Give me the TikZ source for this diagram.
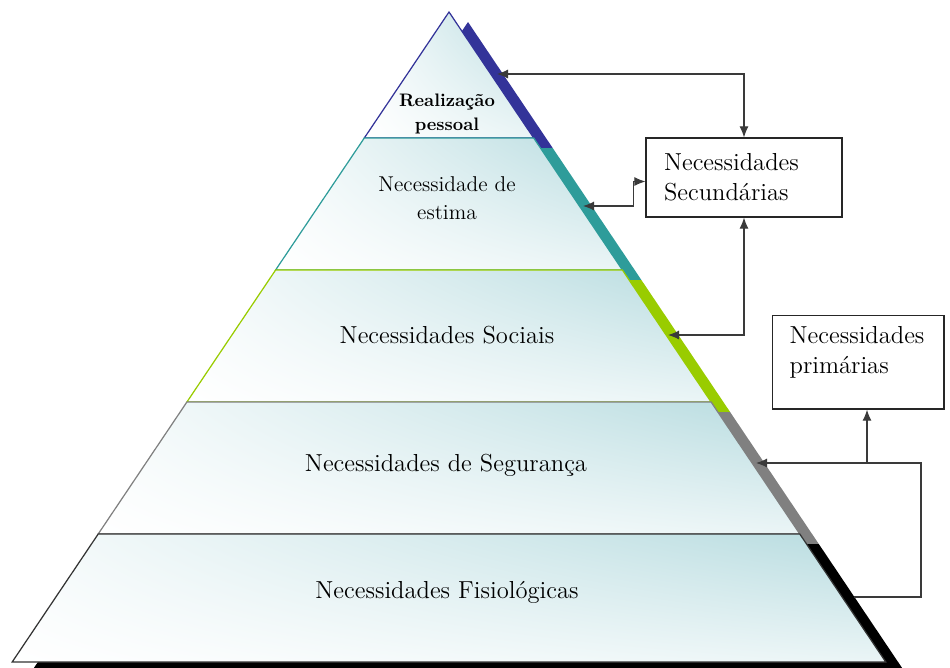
\documentclass[tikz,border=0pt]{standalone}
\usepackage{tikz}
\usetikzlibrary{positioning,arrows.meta,calc,shadings}
\definecolor{selfcol}{HTML}{333399}
\definecolor{esteem}{HTML}{2E9C9A}
\definecolor{social}{HTML}{99CC00}
\definecolor{safety}{HTML}{808080}
\definecolor{basic}{HTML}{000000}
\definecolor{wash}{HTML}{B6DBDF}
\definecolor{line}{HTML}{3A3A3A}
\tikzset{
  layer/.style={upper right=wash,upper left=white!88!wash,lower right=white!72!wash,lower left=white,line width=0.7pt},
  lbl/.style={align=center,font=\fontsize{14}{16}\selectfont},
  needbox/.style={draw=black!85,line width=0.7pt,align=left,font=\fontsize{14}{17}\selectfont},
  link/.style={draw=line,line width=0.6pt,>={Latex[length=2.2mm,width=1.8mm]}}}
\begin{document}
\begin{tikzpicture}[x=0.02cm,y=-0.02cm]
  \useasboundingbox (0,0) rectangle (950,667);
  % side shadow: one band per level
  \begin{scope}[shift={(19,10)}]
    \fill[selfcol] (449,12) -- (533.7,138) -- (364.3,138) -- cycle;
    \fill[esteem] (364.3,138) -- (533.7,138) -- (622.4,270) -- (275.6,270) -- cycle;
    \fill[social] (275.6,270) -- (622.4,270) -- (711.1,402) -- (186.9,402) -- cycle;
    \fill[safety] (186.9,402) -- (711.1,402) -- (799.8,534) -- (98.2,534) -- cycle;
    \fill[basic] (98.2,534) -- (799.8,534) -- (885.8,662) -- (12.2,662) -- cycle;
  \end{scope}
  % the five levels
  \draw[layer,draw=selfcol] (449,12) -- (533.7,138) -- (364.3,138) -- cycle;
  \draw[layer,draw=esteem] (364.3,138) -- (533.7,138) -- (622.4,270) -- (275.6,270) -- cycle;
  \draw[layer,draw=social] (275.6,270) -- (622.4,270) -- (711.1,402) -- (186.9,402) -- cycle;
  \draw[layer,draw=safety] (186.9,402) -- (711.1,402) -- (799.8,534) -- (98.2,534) -- cycle;
  \draw[layer,draw=basic!80] (98.2,534) -- (799.8,534) -- (885.8,662) -- (12.2,662) -- cycle;
  \node[lbl,font=\bfseries\fontsize{10.3}{13.6}\selectfont] (self) at (447,114) {Realização\\pessoal};
  \node[lbl,font=\fontsize{12.2}{15.9}\selectfont] (est) at (447,198) {Necessidade de\\estima};
  \node[lbl] (soc) at (447,335) {Necessidades Sociais};
  \node[lbl] (seg) at (446,465) {Necessidades de Segurança};
  \node[lbl] (fis) at (447,592) {Necessidades Fisiológicas};
  % the two groups
  \node[needbox,text width=3.2cm,inner xsep=0.36cm,minimum height=1.58cm] (sec) at (744,177.5) {Necessidades\\Secundárias};
  \node[needbox,anchor=north west,inner xsep=0.34cm,inner ysep=0.22cm] (pri) at (772,315)
    {\parbox[t][1.43cm][t]{2.75cm}{Necessidades\\primárias}};
  \coordinate (tipA) at (497,74);
  \coordinate (tipB) at (583,206);
  \coordinate (tipC) at (668,335);
  \coordinate (tipD) at (756,463);
  \coordinate (endE) at (854,597);
  \coordinate (turn) at (921,463);
  \coordinate (fork) at (867,463);
  \coordinate (jog) at ($(sec.west)+(-12,4)$);
  \draw[link,<->] (tipA) -| (sec.north);
  \draw[link,<->] (tipB) -| (jog) -- (sec.west |- jog);
  \draw[link,<->] (tipC) -| (sec.south);
  \draw[link,<-] (tipD) -- (turn) |- (endE);
  \draw[link,->] (fork) -- (fork |- pri.south);
\end{tikzpicture}
\end{document}
